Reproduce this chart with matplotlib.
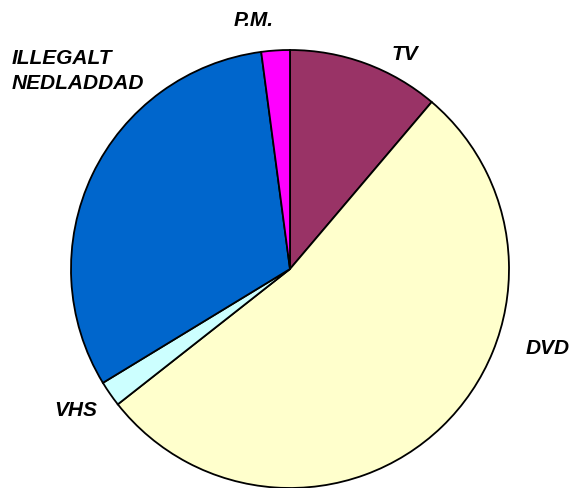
import matplotlib
matplotlib.use('Agg')
import matplotlib.pyplot as plt

# %% data (clockwise from 12 o'clock)
labels = ["TV", "DVD", "VHS", "ILLEGALT\nNEDLADDAD", "P.M."]
shares = [11.2, 53.2, 1.9, 31.6, 2.1]
colors = ["#993366", "#FFFFCC", "#CCFFFF", "#0066CC", "#FF00FF"]

# label anchor positions in pixels (x, y from top) and alignment
label_pos = [(405, 55), (548, 348), (76, 410), (12, 71), (254, 20)]
label_ha = ['center', 'center', 'center', 'left', 'center']

# %%
W, H = 572, 488
fig = plt.figure(figsize=(W / 100, H / 100), dpi=100)
ax = fig.add_axes([0, 0, 1, 1])

ax.pie(shares, colors=colors, startangle=90, counterclock=False,
       center=(290, H - 269), radius=219, frame=True,
       wedgeprops=dict(edgecolor='black', linewidth=1.3))
ax.set_xlim(0, W); ax.set_ylim(0, H)
ax.set_aspect('equal')
ax.axis('off')

for lab, (px, py), ha in zip(labels, label_pos, label_ha):
    ax.text(px, H - py, lab, ha=ha, va='center', multialignment='left',
            family='Liberation Sans', fontsize=15, fontweight='bold',
            fontstyle='italic', linespacing=1.35)

fig.savefig('out.png', dpi=100)
